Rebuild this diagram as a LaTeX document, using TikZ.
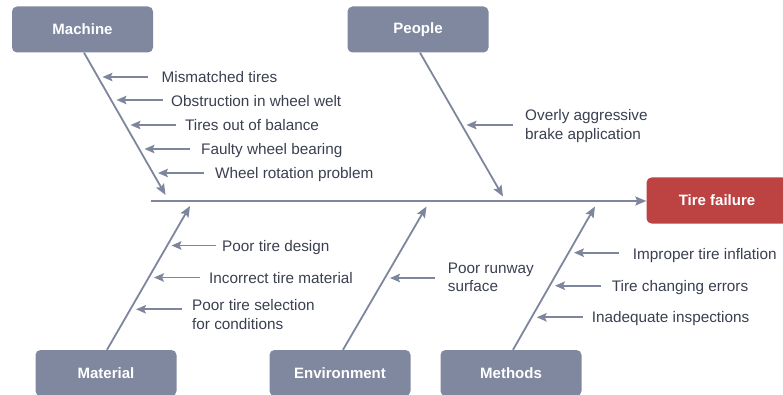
\documentclass[tikz,border=0pt]{standalone}
\usepackage{fontspec}
\setmainfont{Liberation Sans}
\usetikzlibrary{arrows.meta}
\definecolor{boxgray}{HTML}{7F889F}
\definecolor{linegray}{HTML}{7D869C}
\definecolor{txt}{HTML}{3A4050}
\definecolor{effred}{HTML}{BD4242}
\tikzset{
  catbox/.style={fill=boxgray, rounded corners=5pt, minimum width=141pt, minimum height=46pt,
    text=white, font=\fontsize{15}{18}\selectfont\bfseries, inner sep=0pt},
  effbox/.style={catbox, fill=effred},
  bone/.style={draw=linegray, line width=1.8pt, -{Stealth[length=11pt,width=9pt,inset=2pt]}},
  cause/.style={draw=linegray, line width=1.8pt, -{Stealth[length=10pt,width=8.5pt,inset=2pt]}},
  ctext/.style={text=txt, font=\fontsize{15.3}{18.6}\selectfont, inner sep=0pt, anchor=base west, align=left},
}
\begin{document}
\begin{tikzpicture}[x=1pt,y=-1pt]
\useasboundingbox (0,0) rectangle (783,395);
% category boxes
\node[catbox] (machine) at (82.5,29.5) {Machine};
\node[catbox] (people) at (418,29.5) {People};
\node[catbox] (material) at (106,373) {Material};
\node[catbox] (environment) at (340,373) {Environment};
\node[catbox] (methods) at (511,373) {Methods};
\node[effbox] (effect) at (717,200.5) {Tire failure};
% spine
\coordinate (spinestart) at (151,201);
\draw[bone] (spinestart) -- (spinestart -| effect.west);
% bones
\coordinate (mtip) at (165.5,195);
\coordinate (ptip) at (503,196.5);
\coordinate (matip) at (190,206);
\coordinate (etip) at (426.5,206.5);
\coordinate (metip) at (595,206.5);
\draw[bone] ([xshift=1.5pt]machine.south) -- (mtip);
\draw[bone] ([xshift=2pt]people.south) -- (ptip);
\draw[bone] ([xshift=1pt]material.north) -- (matip);
\draw[bone] ([xshift=3pt]environment.north) -- (etip);
\draw[bone] ([xshift=2pt]methods.north) -- (metip);
% Machine causes
\node[ctext] (m1) at (161.5,83) {Mismatched tires};
\node[ctext] (m2) at (171,106.5) {Obstruction in wheel welt};
\node[ctext] (m3) at (185,130.7) {Tires out of balance};
\node[ctext] (m4) at (201,155) {Faulty wheel bearing};
\node[ctext] (m5) at (215,179) {Wheel rotation problem};
\coordinate (m1s) at (148,77);  \coordinate (m1t) at (102.5,77);
\coordinate (m2s) at (163,100); \coordinate (m2t) at (116.5,100);
\coordinate (m3s) at (176,125); \coordinate (m3t) at (130.5,125);
\coordinate (m4s) at (190,149); \coordinate (m4t) at (144.5,149);
\coordinate (m5s) at (203.5,173); \coordinate (m5t) at (158,173);
\draw[cause] (m1s) -- (m1t);
\draw[cause] (m2s) -- (m2t);
\draw[cause] (m3s) -- (m3t);
\draw[cause] (m4s) -- (m4t);
\draw[cause] (m5s) -- (m5t);
% People causes (base = last line's baseline)
\node[ctext] (p1) at (525,139.3) {Overly aggressive\\brake application};
\coordinate (p1s) at (512.5,125); \coordinate (p1t) at (466.5,125);
\draw[cause] (p1s) -- (p1t);
% Material causes
\node[ctext] (a1) at (222,251) {Poor tire design};
\node[ctext] (a2) at (209,283) {Incorrect tire material};
\node[ctext] (a3) at (192,329.3) {Poor tire selection\\for conditions};
\coordinate (a1s) at (216,245.5); \coordinate (a1t) at (171.5,245.5);
\coordinate (a2s) at (200,277.5); \coordinate (a2t) at (154,277.5);
\coordinate (a3s) at (182,309.3); \coordinate (a3t) at (136,309.3);
\draw[cause] (a1s) -- (a1t);
\draw[cause] (a2s) -- (a2t);
\draw[cause] (a3s) -- (a3t);
% Environment causes
\node[ctext] (e1) at (447.7,291.7) {Poor runway\\surface};
\coordinate (e1s) at (435,278); \coordinate (e1t) at (390,278);
\draw[cause] (e1s) -- (e1t);
% Methods causes
\node[ctext] (t1) at (632.7,259) {Improper tire inflation};
\node[ctext] (t2) at (611.7,291) {Tire changing errors};
\node[ctext] (t3) at (591.7,322.7) {Inadequate inspections};
\coordinate (t1s) at (619,252.7); \coordinate (t1t) at (574,252.7);
\coordinate (t2s) at (601,285.7); \coordinate (t2t) at (555,285.7);
\coordinate (t3s) at (582.7,317.3); \coordinate (t3t) at (536.7,317.3);
\draw[cause] (t1s) -- (t1t);
\draw[cause] (t2s) -- (t2t);
\draw[cause] (t3s) -- (t3t);
\end{tikzpicture}
\end{document}
